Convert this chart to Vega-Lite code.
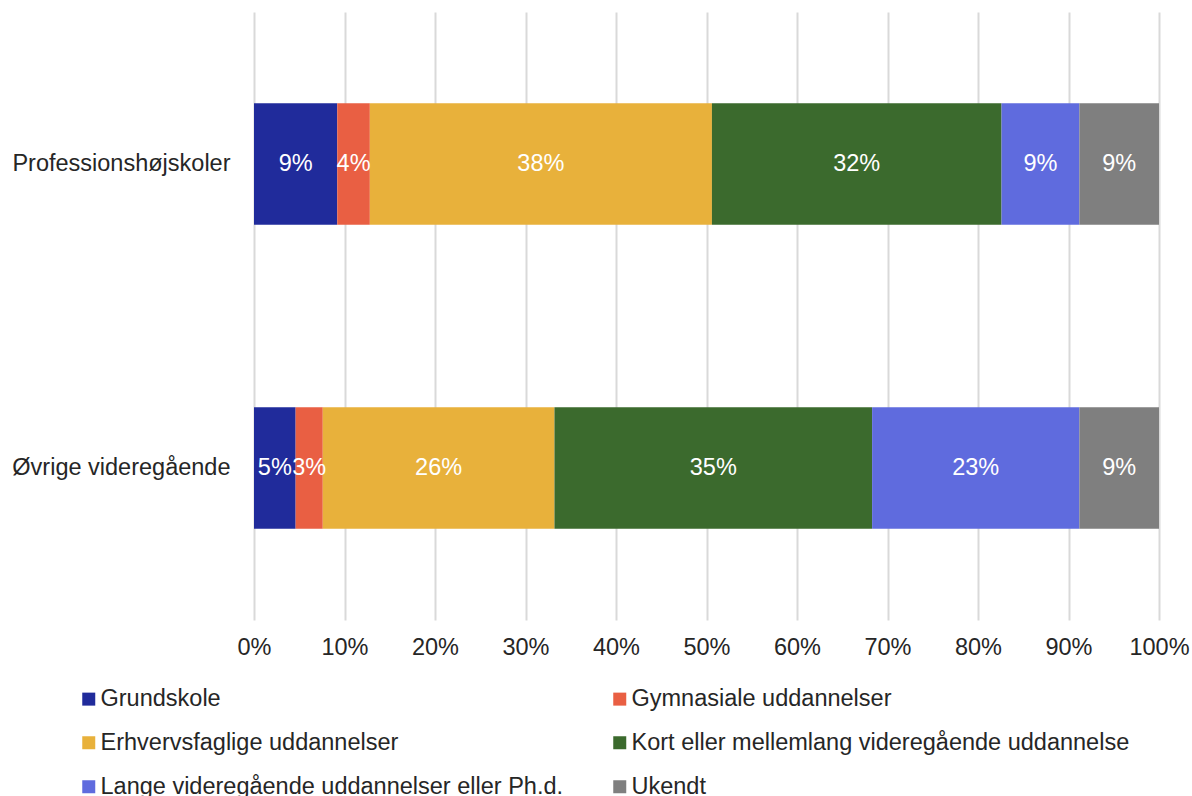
{
  "$schema": "https://vega.github.io/schema/vega-lite/v6.json",
  "autosize": "none",
  "width": 905,
  "height": 608,
  "padding": {"left": 254, "top": 12, "right": 33, "bottom": 176},
  "background": "white",
  "config": {
    "font": "Liberation Sans",
    "view": {"stroke": null}
  },
  "data": {
    "values": [
      {"kategori": "Professionshøjskoler", "uddannelse": "Grundskole", "orden": 1, "andel": 0.092},
      {"kategori": "Professionshøjskoler", "uddannelse": "Gymnasiale uddannelser", "orden": 2, "andel": 0.036},
      {"kategori": "Professionshøjskoler", "uddannelse": "Erhvervsfaglige uddannelser", "orden": 3, "andel": 0.378},
      {"kategori": "Professionshøjskoler", "uddannelse": "Kort eller mellemlang videregående uddannelse", "orden": 4, "andel": 0.320},
      {"kategori": "Professionshøjskoler", "uddannelse": "Lange videregående uddannelser eller Ph.d.", "orden": 5, "andel": 0.086},
      {"kategori": "Professionshøjskoler", "uddannelse": "Ukendt", "orden": 6, "andel": 0.088},
      {"kategori": "Øvrige videregående", "uddannelse": "Grundskole", "orden": 1, "andel": 0.046},
      {"kategori": "Øvrige videregående", "uddannelse": "Gymnasiale uddannelser", "orden": 2, "andel": 0.030},
      {"kategori": "Øvrige videregående", "uddannelse": "Erhvervsfaglige uddannelser", "orden": 3, "andel": 0.256},
      {"kategori": "Øvrige videregående", "uddannelse": "Kort eller mellemlang videregående uddannelse", "orden": 4, "andel": 0.351},
      {"kategori": "Øvrige videregående", "uddannelse": "Lange videregående uddannelser eller Ph.d.", "orden": 5, "andel": 0.229},
      {"kategori": "Øvrige videregående", "uddannelse": "Ukendt", "orden": 6, "andel": 0.088}
    ]
  },
  "transform": [
    {"stack": "andel", "groupby": ["kategori"], "sort": [{"field": "orden", "order": "ascending"}], "as": ["x0", "x1"]},
    {"calculate": "(datum.x0 + datum.x1) / 2", "as": "xmid"}
  ],
  "encoding": {
    "y": {
      "field": "kategori",
      "type": "nominal",
      "sort": ["Professionshøjskoler", "Øvrige videregående"],
      "scale": {"paddingInner": 0.6, "paddingOuter": 0.3},
      "axis": {
        "title": null,
        "ticks": false,
        "domain": false,
        "labelFontSize": 23.5,
        "labelColor": "#262626",
        "labelPadding": 24,
        "labelLimit": 400
      }
    }
  },
  "layer": [
    {
      "mark": {"type": "bar"},
      "encoding": {
        "x": {
          "field": "x0",
          "type": "quantitative",
          "scale": {"domain": [0, 1], "nice": false},
          "axis": {
            "title": null,
            "format": ".0%",
            "values": [0, 0.1, 0.2, 0.3, 0.4, 0.5, 0.6, 0.7, 0.8, 0.9, 1],
            "ticks": false,
            "domain": false,
            "grid": true,
            "gridColor": "#d9d9d9",
            "gridWidth": 2,
            "labelFontSize": 23.5,
            "labelColor": "#262626",
            "labelPadding": 15,
            "labelFlush": false
          }
        },
        "x2": {"field": "x1"},
        "color": {
          "field": "uddannelse",
          "type": "nominal",
          "scale": {
            "domain": ["Grundskole", "Erhvervsfaglige uddannelser", "Lange videregående uddannelser eller Ph.d.", "Gymnasiale uddannelser", "Kort eller mellemlang videregående uddannelse", "Ukendt"],
            "range": ["#202b9b", "#e8b13b", "#5f6bde", "#e95f43", "#3b6a2d", "#7f7f7f"]
          },
          "legend": {
            "title": null,
            "orient": "none",
            "legendX": -177,
            "legendY": 675,
            "columns": 2,
            "columnPadding": 44,
            "rowPadding": 19,
            "symbolType": "square",
            "symbolSize": 169,
            "symbolStrokeWidth": 0,
            "symbolOpacity": 1,
            "labelFontSize": 23.5,
            "labelColor": "#262626",
            "labelOffset": 0,
            "labelLimit": 700
          }
        }
      }
    },
    {
      "mark": {"type": "text", "color": "white", "fontSize": 23.5, "align": "center", "baseline": "middle"},
      "encoding": {
        "x": {"field": "xmid", "type": "quantitative"},
        "text": {"field": "andel", "type": "quantitative", "format": ".0%"}
      }
    }
  ]
}
